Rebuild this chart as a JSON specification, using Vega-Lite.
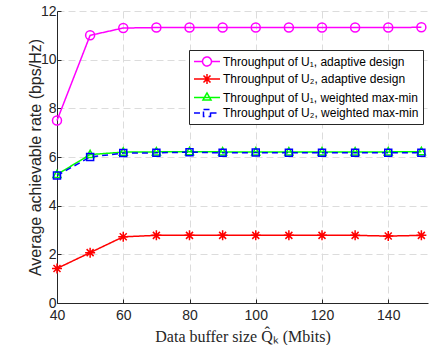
{
  "$schema": "https://vega.github.io/schema/vega-lite/v6.json",
  "width": 371,
  "height": 292,
  "autosize": {"type": "none"},
  "padding": {"left": 57, "top": 11, "right": 10, "bottom": 42},
  "background": "white",
  "config": {
    "view": {"stroke": null},
    "font": "Liberation Sans",
    "axis": {
      "domainColor": "#262626",
      "tickColor": "#262626",
      "labelColor": "#262626",
      "titleColor": "#262626",
      "labelFont": "Liberation Sans",
      "labelFontSize": 14,
      "labelFlush": false,
      "labelOverlap": false,
      "gridColor": "#dcdcdc",
      "gridDash": [7, 4],
      "gridWidth": 1,
      "tickSize": -4,
      "titleFontWeight": "normal"
    },
    "legend": {
      "fillColor": "white",
      "strokeColor": "#262626",
      "padding": 4,
      "cornerRadius": 0,
      "labelFont": "Liberation Sans",
      "labelFontSize": 12,
      "labelColor": "#000000",
      "labelLimit": 400,
      "symbolSize": 169,
      "symbolOpacity": 1,
      "symbolStrokeWidth": 1.5,
      "labelOffset": 15,
      "rowPadding": 1.5
    }
  },
  "data": {
    "values": [
      {"x": 40, "y": 7.5, "s": "Throughput of U₁, adaptive design"},
      {"x": 50, "y": 11.0, "s": "Throughput of U₁, adaptive design"},
      {"x": 60, "y": 11.3, "s": "Throughput of U₁, adaptive design"},
      {"x": 70, "y": 11.32, "s": "Throughput of U₁, adaptive design"},
      {"x": 80, "y": 11.32, "s": "Throughput of U₁, adaptive design"},
      {"x": 90, "y": 11.32, "s": "Throughput of U₁, adaptive design"},
      {"x": 100, "y": 11.32, "s": "Throughput of U₁, adaptive design"},
      {"x": 110, "y": 11.32, "s": "Throughput of U₁, adaptive design"},
      {"x": 120, "y": 11.32, "s": "Throughput of U₁, adaptive design"},
      {"x": 130, "y": 11.32, "s": "Throughput of U₁, adaptive design"},
      {"x": 140, "y": 11.32, "s": "Throughput of U₁, adaptive design"},
      {"x": 150, "y": 11.33, "s": "Throughput of U₁, adaptive design"},
      {"x": 40, "y": 1.42, "s": "Throughput of U₂, adaptive design"},
      {"x": 50, "y": 2.07, "s": "Throughput of U₂, adaptive design"},
      {"x": 60, "y": 2.72, "s": "Throughput of U₂, adaptive design"},
      {"x": 70, "y": 2.78, "s": "Throughput of U₂, adaptive design"},
      {"x": 80, "y": 2.78, "s": "Throughput of U₂, adaptive design"},
      {"x": 90, "y": 2.78, "s": "Throughput of U₂, adaptive design"},
      {"x": 100, "y": 2.78, "s": "Throughput of U₂, adaptive design"},
      {"x": 110, "y": 2.78, "s": "Throughput of U₂, adaptive design"},
      {"x": 120, "y": 2.78, "s": "Throughput of U₂, adaptive design"},
      {"x": 130, "y": 2.78, "s": "Throughput of U₂, adaptive design"},
      {"x": 140, "y": 2.75, "s": "Throughput of U₂, adaptive design"},
      {"x": 150, "y": 2.78, "s": "Throughput of U₂, adaptive design"},
      {"x": 40, "y": 5.28, "s": "Throughput of U₁, weighted max-min"},
      {"x": 50, "y": 6.1, "s": "Throughput of U₁, weighted max-min"},
      {"x": 60, "y": 6.2, "s": "Throughput of U₁, weighted max-min"},
      {"x": 70, "y": 6.21, "s": "Throughput of U₁, weighted max-min"},
      {"x": 80, "y": 6.22, "s": "Throughput of U₁, weighted max-min"},
      {"x": 90, "y": 6.21, "s": "Throughput of U₁, weighted max-min"},
      {"x": 100, "y": 6.21, "s": "Throughput of U₁, weighted max-min"},
      {"x": 110, "y": 6.21, "s": "Throughput of U₁, weighted max-min"},
      {"x": 120, "y": 6.21, "s": "Throughput of U₁, weighted max-min"},
      {"x": 130, "y": 6.21, "s": "Throughput of U₁, weighted max-min"},
      {"x": 140, "y": 6.21, "s": "Throughput of U₁, weighted max-min"},
      {"x": 150, "y": 6.22, "s": "Throughput of U₁, weighted max-min"},
      {"x": 40, "y": 5.24, "s": "Throughput of U₂, weighted max-min"},
      {"x": 50, "y": 6.0, "s": "Throughput of U₂, weighted max-min"},
      {"x": 60, "y": 6.16, "s": "Throughput of U₂, weighted max-min"},
      {"x": 70, "y": 6.17, "s": "Throughput of U₂, weighted max-min"},
      {"x": 80, "y": 6.2, "s": "Throughput of U₂, weighted max-min"},
      {"x": 90, "y": 6.17, "s": "Throughput of U₂, weighted max-min"},
      {"x": 100, "y": 6.18, "s": "Throughput of U₂, weighted max-min"},
      {"x": 110, "y": 6.17, "s": "Throughput of U₂, weighted max-min"},
      {"x": 120, "y": 6.17, "s": "Throughput of U₂, weighted max-min"},
      {"x": 130, "y": 6.17, "s": "Throughput of U₂, weighted max-min"},
      {"x": 140, "y": 6.17, "s": "Throughput of U₂, weighted max-min"},
      {"x": 150, "y": 6.17, "s": "Throughput of U₂, weighted max-min"}
    ]
  },
  "encoding": {
    "x": {
      "field": "x",
      "type": "quantitative",
      "scale": {"domain": [40, 152], "nice": false, "zero": false},
      "axis": {
        "values": [40, 60, 80, 100, 120, 140],
        "title": "Data buffer size Q̂ₖ (Mbits)",
        "titleFont": "Liberation Serif",
        "titleFontSize": 16,
        "titlePadding": 6,
        "labelPadding": 9
      }
    },
    "y": {
      "field": "y",
      "type": "quantitative",
      "scale": {"domain": [0, 12], "nice": false},
      "axis": {
        "values": [0, 2, 4, 6, 8, 10, 12],
        "title": "Average achievable rate (bps/Hz)",
        "titleFont": "Liberation Sans",
        "titleFontSize": 16,
        "titlePadding": -3,
        "labelPadding": 5
      }
    }
  },
  "layer": [
    {
      "mark": {"type": "point", "filled": false, "opacity": 0, "strokeWidth": 1.5},
      "encoding": {
        "color": {
          "field": "s",
          "type": "nominal",
          "scale": {
            "domain": ["Throughput of U₁, adaptive design", "Throughput of U₂, adaptive design", "Throughput of U₁, weighted max-min", "Throughput of U₂, weighted max-min"],
            "range": ["#ff00ff", "#ff0000", "#00ff00", "#0000ff"]
          },
          "legend": {"title": null, "orient": "none", "legendX": 132, "legendY": 39, "direction": "vertical"}
        },
        "shape": {
          "field": "s",
          "type": "nominal",
          "scale": {
            "domain": ["Throughput of U₁, adaptive design", "Throughput of U₂, adaptive design", "Throughput of U₁, weighted max-min", "Throughput of U₂, weighted max-min"],
            "range": ["M-1,0H0.31M1.69,0H3M0.31,0A0.69,0.69,0,1,0,1.69,0A0.69,0.69,0,1,0,0.31,0Z", "M-1,0H3M1,-0.77V0.77M0.46,-0.54L1.54,0.54M0.46,0.54L1.54,-0.54", "M-1,0H3M1,-0.7L1.62,0.4L0.38,0.4Z", "M-1,0H0.46M1.54,0H3M0.46,-0.54H1.54V0.54H0.46Z"]
          },
          "legend": {"title": null, "orient": "none", "legendX": 132, "legendY": 39, "direction": "vertical"}
        }
      }
    },
    {
      "mark": {"type": "line", "strokeWidth": 1.5},
      "encoding": {
        "color": {"field": "s", "type": "nominal", "legend": null},
        "strokeDash": {
          "field": "s",
          "type": "nominal",
          "scale": {
            "domain": ["Throughput of U₁, adaptive design", "Throughput of U₂, adaptive design", "Throughput of U₁, weighted max-min", "Throughput of U₂, weighted max-min"],
            "range": [[1, 0], [1, 0], [1, 0], [6, 4]]
          },
          "legend": null
        }
      }
    },
    {
      "transform": [{"filter": "datum.s === 'Throughput of U₁, adaptive design'"}],
      "mark": {"type": "point", "filled": false, "strokeWidth": 1.5, "size": 100, "opacity": 1, "shape": "M-0.9,0A0.9,0.9,0,1,0,0.9,0A0.9,0.9,0,1,0,-0.9,0Z"},
      "encoding": {"color": {"field": "s", "type": "nominal", "legend": null}}
    },
    {
      "transform": [{"filter": "datum.s === 'Throughput of U₂, adaptive design'"}],
      "mark": {"type": "point", "filled": false, "strokeWidth": 1.5, "size": 100, "opacity": 1, "shape": "M-1,0H1M0,-1V1M-0.7,-0.7L0.7,0.7M-0.7,0.7L0.7,-0.7"},
      "encoding": {"color": {"field": "s", "type": "nominal", "legend": null}}
    },
    {
      "transform": [{"filter": "datum.s === 'Throughput of U₁, weighted max-min'"}],
      "mark": {"type": "point", "filled": false, "strokeWidth": 1.5, "size": 100, "opacity": 1, "shape": "M0,-0.85L0.8,0.6L-0.8,0.6Z"},
      "encoding": {"color": {"field": "s", "type": "nominal", "legend": null}}
    },
    {
      "transform": [{"filter": "datum.s === 'Throughput of U₂, weighted max-min'"}],
      "mark": {"type": "point", "filled": false, "strokeWidth": 1.5, "size": 100, "opacity": 1, "shape": "M-0.7,-0.7H0.7V0.7H-0.7Z"},
      "encoding": {"color": {"field": "s", "type": "nominal", "legend": null}}
    }
  ]
}
